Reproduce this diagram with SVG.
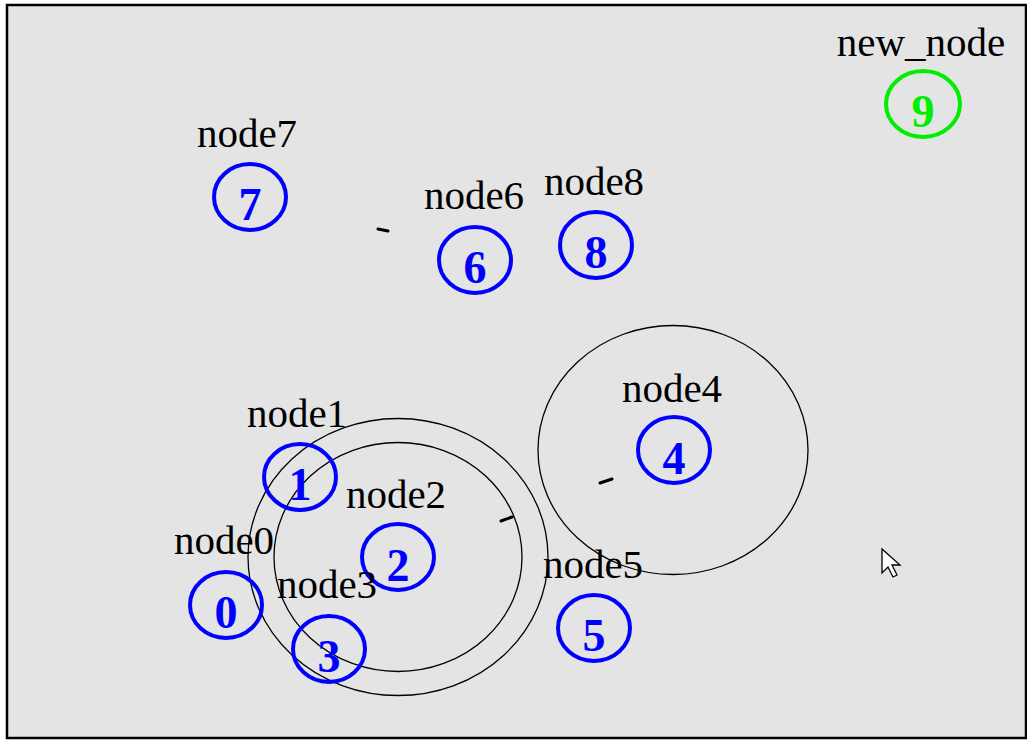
<svg xmlns="http://www.w3.org/2000/svg" width="1027" height="740" viewBox="0 0 1027 740">
  <style>
    .frame { fill: #e4e4e4; stroke: #000; stroke-width: 2.5; }
    .ring { fill: none; stroke: #0000ff; stroke-width: 4; }
    .ring.new { stroke: #00ee00; }
    .num { font-family: "Liberation Serif", "Times New Roman", serif; font-size: 46px; font-weight: bold; fill: #0000ff; text-anchor: middle; }
    .num.new { fill: #00ee00; }
    .label { font-family: "Liberation Serif", "Times New Roman", serif; font-size: 41px; fill: #000; text-anchor: middle; }
    .loop { fill: none; stroke: #000; stroke-width: 1.3; }
    .tick { fill: none; stroke: #000; stroke-width: 3; stroke-linecap: round; }
  </style>

  <!-- canvas -->
  <rect x="0" y="0" width="1027" height="740" fill="#ffffff"/>
  <rect class="frame" x="7" y="5" width="1019" height="733"/>

  <!-- connectors: loops and their heads -->
  <g id="connectors">
    <ellipse class="loop" cx="398" cy="557" rx="150" ry="138.5"/>
    <ellipse class="loop" cx="398" cy="557" rx="124" ry="114.5"/>
    <ellipse class="loop" cx="673" cy="450" rx="135" ry="124.5"/>
    <path class="tick" d="M501 521 L512 517"/>
    <path class="tick" d="M600 483 L612 479"/>
    <path class="tick" d="M378 229 L388 231"/>
  </g>

  <!-- nodes -->
  <g id="node0">
    <text class="label" x="224" y="554">node0</text>
    <ellipse class="ring" cx="226" cy="605" rx="36" ry="33"/>
    <text class="num" x="226" y="628">0</text>
  </g>
  <g id="node1">
    <text class="label" x="297" y="427">node1</text>
    <ellipse class="ring" cx="300" cy="477" rx="36" ry="33"/>
    <text class="num" x="300" y="500">1</text>
  </g>
  <g id="node2">
    <text class="label" x="396" y="508">node2</text>
    <ellipse class="ring" cx="398" cy="557" rx="36" ry="33"/>
    <text class="num" x="398" y="581">2</text>
  </g>
  <g id="node3">
    <text class="label" x="327" y="598">node3</text>
    <ellipse class="ring" cx="329" cy="649" rx="36" ry="33"/>
    <text class="num" x="329" y="672">3</text>
  </g>
  <g id="node4">
    <text class="label" x="672" y="402">node4</text>
    <ellipse class="ring" cx="674" cy="450" rx="36" ry="33"/>
    <text class="num" x="674" y="474">4</text>
  </g>
  <g id="node5">
    <text class="label" x="593" y="578">node5</text>
    <ellipse class="ring" cx="594" cy="628" rx="36" ry="33"/>
    <text class="num" x="594" y="651">5</text>
  </g>
  <g id="node6">
    <text class="label" x="474" y="209">node6</text>
    <ellipse class="ring" cx="475" cy="260" rx="36" ry="33"/>
    <text class="num" x="475" y="283">6</text>
  </g>
  <g id="node7">
    <text class="label" x="247" y="147">node7</text>
    <ellipse class="ring" cx="250" cy="197" rx="36" ry="33"/>
    <text class="num" x="250" y="220">7</text>
  </g>
  <g id="node8">
    <text class="label" x="594" y="195">node8</text>
    <ellipse class="ring" cx="596" cy="245" rx="36" ry="33"/>
    <text class="num" x="596" y="268">8</text>
  </g>
  <g id="node9">
    <text class="label" x="921" y="56">new_node</text>
    <ellipse class="ring new" cx="923" cy="104" rx="37" ry="33"/>
    <text class="num new" x="923" y="127">9</text>
  </g>

  <!-- pointer -->
  <polygon points="882,549 882,573 888,567 893,577 897,575 892,565 900,565" fill="#ffffff" stroke="#000" stroke-width="1.3" stroke-linejoin="miter"/>
</svg>
